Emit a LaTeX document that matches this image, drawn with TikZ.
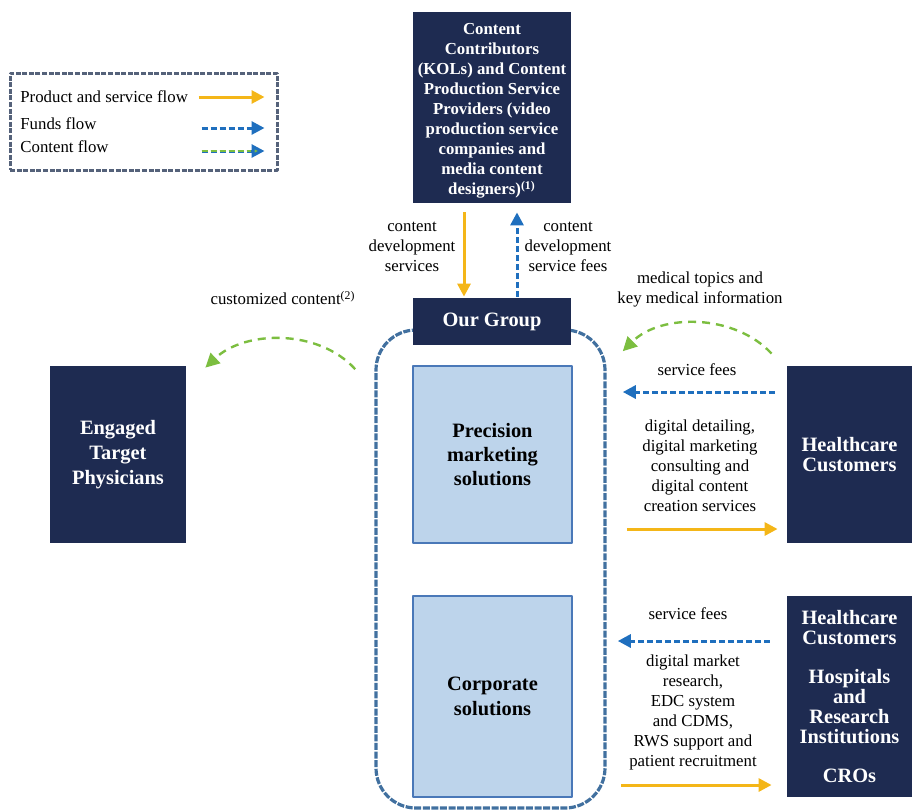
\documentclass[tikz,border=0pt]{standalone}
\usepackage{fontspec}
\setmainfont{Liberation Serif}
\usetikzlibrary{arrows.meta,calc}
\definecolor{navy}{RGB}{30,43,81}
\definecolor{gold}{RGB}{244,182,24}
\definecolor{fundblue}{RGB}{31,111,190}
\definecolor{leafgreen}{RGB}{124,190,64}
\definecolor{zoneblue}{RGB}{65,112,159}
\definecolor{legendgray}{RGB}{85,98,122}
\definecolor{paleblue}{RGB}{189,212,235}
\definecolor{edgeblue}{RGB}{74,120,184}
\tikzset{
  darkbox/.style={fill=navy, text=white, align=center, inner sep=0pt,
    font=\bfseries\fontsize{10.2}{12.5}\selectfont},
  solbox/.style={fill=paleblue, draw=edgeblue, line width=0.8pt, align=center, inner sep=0pt,
    font=\bfseries\fontsize{10.2}{12}\selectfont},
  lbl/.style={font=\fontsize{8.4}{10}\selectfont, align=center, inner sep=0pt},
  prodflow/.style={draw=gold, line width=1.5pt, -{Triangle[length=6.5pt,width=6.5pt]}},
  fundflow/.style={draw=fundblue, line width=1.5pt, dash pattern=on 3pt off 1.5pt,
    -{Triangle[length=6.5pt,width=6.5pt]}},
  contflow/.style={draw=leafgreen, line width=1.2pt, dash pattern=on 4pt off 3pt,
    -{Triangle[length=7pt,width=7pt]}},
  zone/.style={draw=zoneblue, line width=1.6pt, dash pattern=on 3.5pt off 0.8pt, rounded corners=20pt},
  legendbox/.style={draw=legendgray, line width=1.5pt, dash pattern=on 2.5pt off 0.8pt}
}
\begin{document}
\begin{tikzpicture}[x=0.5pt,y=-0.5pt,line join=round]
\useasboundingbox (0,0) rectangle (912,811);

\node[legendbox, minimum width=133.5pt, minimum height=48.5pt] (legend) at (143.5,121.5) {};
\node[lbl, anchor=west] (lprod) at (20,97) {Product and service flow};
\node[lbl, anchor=west] (lfund) at (20,124) {Funds flow};
\node[lbl, anchor=west] (lcont) at (20,147) {Content flow};
\draw[prodflow] ($(legend.east |- lprod.east)+(-80,0)$) -- ($(legend.east |- lprod.east)+(-14,0)$);
\draw[fundflow] ($(legend.east |- lfund.east)+(-77,4)$) -- ($(legend.east |- lfund.east)+(-14,4)$);
\draw[fundflow, -{Triangle[length=6.5pt,width=6.5pt,fill=leafgreen]}] ($(legend.east |- lcont.east)+(-77,4)$) -- ($(legend.east |- lcont.east)+(-14,4)$);
\draw[leafgreen, line width=0.7pt, dash pattern=on 3pt off 1.5pt] ($(legend.east |- lcont.east)+(-77,4)$) -- ($(legend.east |- lcont.east)+(-28,4)$);

\node[zone, minimum width=114.5pt, minimum height=239pt] (zone) at (490.5,569) {};

\node[darkbox, minimum width=79pt, minimum height=95.5pt, font=\bfseries\fontsize{8.4}{10}\selectfont] (top) at (492,107.5)
  {\rule{0pt}{9.2pt}Content\\Contributors\\(KOLs) and Content\\Production Service\\Providers (video\\production service\\companies and\\media content\\designers)\textsuperscript{(1)}};
\node[darkbox, minimum width=79pt, minimum height=23.5pt] (grp) at (492,321.5) {Our Group};
\node[solbox, minimum width=79.5pt, minimum height=88.5pt] (prec) at (492.5,454.5) {Precision\\marketing\\solutions};
\node[solbox, minimum width=79.5pt, minimum height=100.5pt, font=\bfseries\fontsize{10.2}{12.5}\selectfont] (corp) at (492.5,696.5) {Corporate\\solutions};
\node[darkbox, minimum width=68pt, minimum height=88.5pt] (phys) at (118,454.5) {Engaged\\Target\\Physicians};
\node[darkbox, minimum width=62.5pt, minimum height=88.5pt, font=\bfseries\fontsize{10.2}{10}\selectfont] (hc) at (849.5,454.5) {Healthcare\\Customers};
\node[darkbox, minimum width=62.5pt, minimum height=100.5pt, font=\bfseries\fontsize{10.2}{10}\selectfont] (hcb) at (849.5,696.5)
  {Healthcare\\Customers\\[9.5pt]Hospitals\\and\\Research\\Institutions\\[9.5pt]CROs};

\node[lbl] (devlbl) at (412,247) {content\\development\\services};
\node[lbl] (feelbl) at (568,247) {content\\development\\service fees};
\node[lbl] (custlbl) at (283,298) {customized content\textsuperscript{(2)}};
\node[lbl] (medlbl) at (700,289) {medical topics and\\key medical information};
\node[lbl] (feeslbla) at (697,370) {service fees};
\node[lbl] (detlbl) at (700,466) {digital detailing,\\digital marketing\\consulting and\\digital content\\creation services};
\node[lbl] (feeslblb) at (688,614) {service fees};
\node[lbl] (mktlbl) at (693,712) {digital market\\research,\\EDC system\\and CDMS,\\RWS support and\\patient recruitment};

\draw[prodflow] ($(top.south)+(-28,9)$) -- ($(grp.north)+(-28,-1)$);
\draw[fundflow] ($(grp.north)+(25,-1)$) -- ($(top.south)+(25,9)$);
\draw[fundflow] ($(hc.west)+(-12,-62.5)$) -- ($(prec.east)+(50,-62.5)$);
\draw[prodflow] ($(prec.east)+(54,74.5)$) -- ($(hc.west)+(-9,74.5)$);
\draw[fundflow] ($(hcb.west)+(-17,-55.5)$) -- ($(corp.east)+(45,-55.5)$);
\draw[prodflow] ($(corp.east)+(48,88.5)$) -- ($(hcb.west)+(-15,88.5)$);
\draw[contflow] ($(prec.north west)+(-57,4)$) .. controls +(-36,-40) and +(40,-38) .. ($(phys.north east)+(19,2)$);
\draw[contflow] ($(hc.north west)+(-15,-12)$) .. controls +(-37,-40) and +(38,-38) .. ($(prec.north east)+(50,-14)$);
\end{tikzpicture}
\end{document}
